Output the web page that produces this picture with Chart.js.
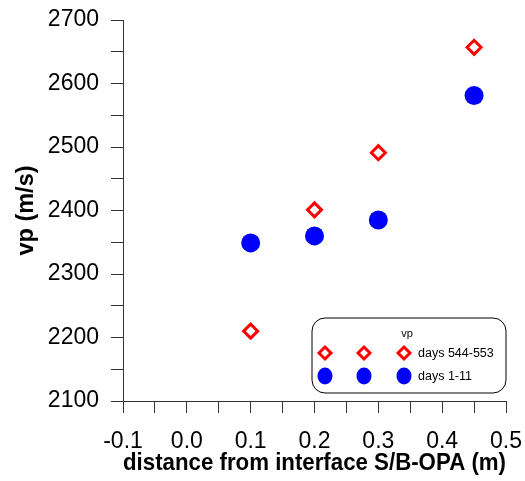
<!DOCTYPE html>
<html>
<head>
<meta charset="utf-8">
<title>vp vs distance</title>
<script src="https://cdn.jsdelivr.net/npm/chart.js@4"></script>
<style>
  body { margin: 0; background: #fff; }
  canvas { display: block; }
</style>
</head>
<body>
<canvas id="vpChart" width="525" height="481"></canvas>
<script>
// Measured p-wave velocities against distance from the interface
const distances = [0.1, 0.2, 0.3, 0.45];
const vpLate = [2210, 2401, 2491, 2657];
const vpEarly = [2349, 2360, 2385, 2581];
const seriesLabels = ['days 544-553', 'days 1-11'];
const legendTitle = 'vp';

const toPoints = (xs, ys) => xs.map((x, i) => ({ x: x, y: ys[i] }));

// Boxed legend with three sample markers per row
const boxLegend = {
    id: 'boxLegend',
    afterDraw(chart) {
        const ctx = chart.ctx;
        const left = 312, top = 318, w = 194, h = 75, r = 13;
        ctx.save();
        ctx.beginPath();
        ctx.roundRect(left, top, w, h, r);
        ctx.fillStyle = '#fff';
        ctx.fill();
        ctx.lineWidth = 1;
        ctx.strokeStyle = '#000';
        ctx.stroke();

        ctx.fillStyle = '#000';
        ctx.font = '11px "Liberation Sans", Arial, sans-serif';
        ctx.textAlign = 'center';
        ctx.textBaseline = 'middle';
        ctx.fillText(legendTitle, 407, 334);

        const rows = [353, 376];
        const cols = [325, 364, 404];
        chart.data.datasets.forEach((ds, i) => {
            const y = rows[i];
            cols.forEach(x => {
                ctx.beginPath();
                if (ds.pointStyle === 'rectRot') {
                    const s = 6;
                    ctx.moveTo(x - s, y);
                    ctx.lineTo(x, y - s);
                    ctx.lineTo(x + s, y);
                    ctx.lineTo(x, y + s);
                    ctx.closePath();
                    ctx.fillStyle = ds.backgroundColor;
                    ctx.fill();
                    ctx.lineWidth = 3;
                    ctx.strokeStyle = ds.borderColor;
                    ctx.stroke();
                } else {
                    ctx.ellipse(x, y, 7.5, 8.5, 0, 0, Math.PI * 2);
                    ctx.fillStyle = ds.backgroundColor;
                    ctx.fill();
                }
            });
            ctx.fillStyle = '#000';
            ctx.font = '12.5px "Liberation Sans", Arial, sans-serif';
            ctx.textAlign = 'left';
            ctx.fillText(ds.label, 418, y + 1);
        });
        ctx.restore();
    }
};

const tickFont = { family: '"Liberation Sans", Arial, sans-serif', size: 23 };
const titleFont = { family: '"Liberation Sans", Arial, sans-serif', size: 23.5, weight: 'bold' };
const xTitleFont = { family: '"Liberation Sans", Arial, sans-serif', size: 24, weight: 'bold' };

const ctx = document.getElementById('vpChart').getContext('2d');
const vpChart = new Chart(ctx, {
    type: 'scatter',
    data: {
        datasets: [{
            label: seriesLabels[0],
            data: toPoints(distances, vpLate),
            pointStyle: 'rectRot',
            pointRadius: 7,
            pointHoverRadius: 7,
            backgroundColor: '#ffffff',
            borderColor: '#ff0000',
            pointBorderWidth: 3
        }, {
            label: seriesLabels[1],
            data: toPoints(distances, vpEarly),
            pointStyle: 'circle',
            pointRadius: 9.5,
            pointHoverRadius: 9.5,
            backgroundColor: '#0000ff',
            borderColor: '#0000ff',
            pointBorderWidth: 0
        }]
    },
    options: {
        responsive: false,
        animation: false,
        layout: { padding: { top: 20, right: 19, left: 0, bottom: 0 } },
        plugins: {
            legend: { display: false },
            tooltip: { enabled: false }
        },
        scales: {
            x: {
                min: -0.1,
                max: 0.5,
                afterFit(scale) {
                    scale.height = 80;
                    scale.paddingLeft = 0;
                    scale.paddingRight = 0;
                },
                ticks: {
                    stepSize: 0.05,
                    autoSkip: false,
                    maxRotation: 0,
                    padding: 15,
                    color: '#000',
                    font: tickFont,
                    callback: v => {
                        const n = Math.round(v * 100);
                        return n % 10 === 0 ? (n / 100).toFixed(1) : '';
                    }
                },
                grid: { drawOnChartArea: false, tickLength: 12, color: '#333' },
                border: { color: '#333', width: 1 },
                title: {
                    display: true,
                    text: 'distance from interface S/B-OPA (m)',
                    color: '#000',
                    font: xTitleFont,
                    padding: { top: 0, bottom: 3 }
                }
            },
            y: {
                min: 2100,
                max: 2700,
                afterFit(scale) {
                    scale.width = 123;
                    scale.paddingTop = 0;
                    scale.paddingBottom = 0;
                },
                ticks: {
                    stepSize: 50,
                    autoSkip: false,
                    padding: 12,
                    color: '#000',
                    font: tickFont,
                    callback: v => v % 100 === 0 ? String(v) : ''
                },
                grid: { drawOnChartArea: false, tickLength: 12, color: '#333' },
                border: { color: '#333', width: 1 },
                title: {
                    display: true,
                    text: 'vp (m/s)',
                    color: '#000',
                    font: titleFont,
                    padding: { top: 12, bottom: 0 }
                }
            }
        }
    },
    plugins: [boxLegend]
});
</script>
</body>
</html>
